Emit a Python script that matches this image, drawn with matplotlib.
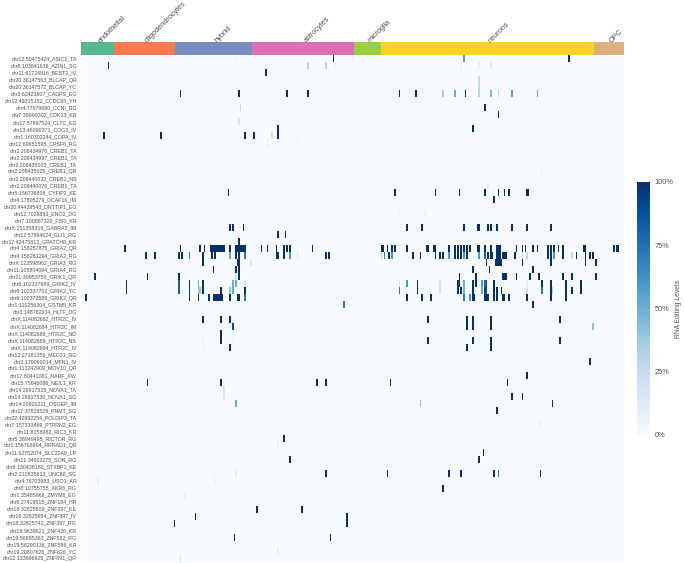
import numpy as np
import matplotlib
matplotlib.use("Agg")
import matplotlib.pyplot as plt
from matplotlib.colors import ListedColormap

plt.rcParams['font.family'] = ['Liberation Sans', 'DejaVu Sans']

row_labels = """chr12:50475424_ASIC1_TA
chr8:103841636_AZIN1_SG
chr11:61724916_BEST1_IV
chr20:36147563_BLCAP_QR
chr20:36147572_BLCAP_YC
chr3:62423807_CADPS_EG
chr12:49315152_CCDC65_YH
chr4:77979680_CCNI_RG
chr7:39990302_CDK13_KR
chr17:57697524_CLTC_EG
chr13:46090371_COG3_IV
chr1:160302244_COPA_IV
chr12:69651595_CPSF6_RG
chr2:208434976_CREB1_TA
chr2:208434997_CREB1_TA
chr2:208435003_CREB1_TA
chr2:208435025_CREB1_QR
chr2:208440032_CREB1_NS
chr2:208440076_CREB1_TA
chr5:156736808_CYFIP2_KE
chr4:17805279_DCAF16_IM
chr20:44439543_DNTTIP1_EG
chr12:7026883_ENO2_DG
chr7:100887329_FIS1_KR
chrX:151358319_GABRA3_IM
chr12:57864624_GLI1_RG
chr17:42475813_GPATCH8_KR
chr4:158257875_GRIA2_QR
chr4:158281294_GRIA2_RG
chrX:122598962_GRIA3_RG
chr11:105804694_GRIA4_RG
chr21:30953750_GRIK1_QR
chr6:102337689_GRIK2_IV
chr6:102337702_GRIK2_YC
chr6:102372589_GRIK2_QR
chr1:110256304_GSTM5_KR
chr3:148782634_HLTF_DG
chrX:114082682_HTR2C_IV
chrX:114082684_HTR2C_IM
chrX:114082686_HTR2C_ND
chrX:114082689_HTR2C_NS
chrX:114082694_HTR2C_IV
chr12:27181356_MED21_RG
chr3:179060014_MFN1_IV
chr1:113242909_MOV10_QR
chr17:80441081_NARF_XW
chr15:75646086_NEIL1_KR
chr14:26917515_NOVA1_TA
chr14:26917530_NOVA1_SG
chr14:20920211_OSGEP_IM
chr17:37826529_PNMT_SG
chr22:42992254_POLDIP3_TA
chr7:157333469_PTPRN2_EG
chr11:8158982_RIC3_KR
chr5:38949495_RICTOR_RG
chr1:156703904_RRNAD1_QR
chr11:62752074_SLC22A6_LP
chr21:34923275_SON_RG
chr9:130438182_STXBP1_KE
chr2:210835613_UNC80_SG
chr4:76703983_USO1_KR
chr8:10755755_XKR6_RG
chr1:35485966_ZMYM6_EG
chr6:27419515_ZNF184_HR
chr18:32825609_ZNF397_KE
chr18:32825654_ZNF397_IV
chr18:32825741_ZNF397_RG
chr19:9639621_ZNF426_KR
chr19:56895363_ZNF582_RG
chr19:58290136_ZNF586_KR
chr19:20807626_ZNF626_YC
chr12:133696925_ZNF891_QR""".split("\n")

cell_types = ["endothelial", "oligodendrocytes", "hybrid", "astrocytes", "microglia", "neurons", "OPC"]
cell_counts = [22, 41, 51, 68, 18, 142, 20]
cell_colors = ["#57b78f", "#f97a4e", "#7a8cbe", "#dd6eb3", "#97d13f", "#ffd124", "#dab07e"]

# samples fully edited (100%), by row
full_edit = {
    0: [168, 325], 1: [18], 2: [123],
    5: [66, 105, 137, 151, 212, 223, 256],
    7: [269], 8: [278], 10: [131, 261],
    11: [15, 53, 109, 115, 131],
    19: [98, 209, 236, 252, 269, 278, 282, 285, 297, 298],
    20: [275],
    24: [99, 101, 108, 217, 227, 255, 264, 265, 271, 273, 277, 287, 297, 313],
    25: [131, 136], 26: [105],
    27: [29, 66, 79, 82, 86, 87, 88, 89, 90, 91, 92, 93, 94, 95, 99, 103, 104, 105, 106, 107, 108, 109,
         120, 124, 130, 135, 137, 139, 154, 200, 201, 204, 207, 209, 217, 230, 231, 235, 236, 245, 249,
         251, 253, 255, 257, 259, 264, 265, 269, 273, 277, 278, 279, 290, 294, 296, 301, 304, 311, 313,
         315, 318, 321, 335, 336, 355, 357, 358],
    28: [43, 49, 65, 67, 81, 87, 89, 103, 105, 130, 131, 135, 163, 165, 205, 221, 226, 236, 239, 241,
         249, 251, 253, 257, 271, 273, 274, 277, 278, 279, 281, 282, 283, 289, 311, 313, 321, 330, 336,
         339, 341],
    29: [81, 104, 105, 270, 276, 277, 278, 279, 280, 294, 313, 336, 343],
    30: [88, 103, 105, 261, 272, 301],
    31: [9, 44, 65, 105, 252, 263, 281, 282, 283, 290, 299, 305, 321, 327, 343],
    32: [30, 72, 81, 224, 251, 252, 261, 263, 275, 307, 313, 323, 333],
    33: [30, 72, 81, 93, 109, 224, 251, 253, 261, 275, 277, 280, 313, 323, 327, 333],
    34: [3, 72, 78, 85, 88, 89, 90, 91, 92, 93, 94, 99, 104, 105, 217, 227, 233, 261, 262, 269, 270, 271,
         275, 277, 281, 282, 285, 297, 313, 323],
    35: [301],
    37: [81, 93, 99, 231, 257, 261, 273, 319],
    38: [257, 261, 273], 39: [93],
    40: [93, 231, 261, 273, 319],
    41: [99, 257, 273], 43: [339], 45: [297],
    46: [44, 93, 157, 163, 206, 284],
    48: [287, 294], 49: [314], 50: [277], 54: [135], 56: [268], 57: [139, 265],
    59: [163, 204, 245, 253, 275, 306],
    61: [241], 64: [117, 147], 65: [76, 177], 66: [62, 177], 68: [102, 166],
}

# samples with partial editing: row -> {sample: percent}
partial_edit = {
    0: {255: 55, 103: 5},
    1: {151: 30, 163: 30, 169: 5, 253: 5, 265: 10, 273: 12},
    3: {265: 25}, 4: {265: 25},
    5: {241: 35, 249: 50, 265: 30, 273: 45, 278: 30, 287: 55, 304: 50},
    7: {106: 25}, 9: {105: 15},
    11: {127: 20}, 12: {124: 10, 144: 10},
    13: {317: 3}, 16: {307: 5}, 17: {355: 2}, 18: {271: 10},
    22: {212: 5, 229: 7},
    28: {72: 70, 99: 50, 109: 70, 139: 60, 144: 20, 200: 30, 202: 70, 207: 60, 245: 60, 255: 60,
         265: 60, 269: 80, 294: 25, 297: 25, 315: 60, 327: 25},
    29: {113: 15},
    31: {103: 20},
    32: {65: 80, 78: 50, 101: 50, 103: 50, 109: 20, 212: 20, 217: 60, 239: 20, 255: 50, 267: 60,
         269: 80, 270: 90, 297: 10},
    33: {65: 80, 78: 40, 79: 40, 99: 40, 101: 50, 212: 70, 239: 20, 255: 50, 267: 50, 269: 90, 270: 90,
         297: 20, 307: 70, 314: 30},
    34: {109: 70, 255: 70, 259: 60},
    35: {175: 70}, 36: {135: 3},
    38: {101: 90, 341: 40, 81: 5},
    40: {81: 7, 101: 5}, 41: {81: 3},
    47: {95: 15}, 48: {95: 15},
    49: {103: 50, 226: 40},
    51: {16: 5}, 52: {306: 10}, 53: {88: 5}, 55: {131: 7}, 58: {221: 3},
    59: {103: 10, 278: 70, 333: 3},
    60: {11: 10, 89: 5}, 62: {69: 7}, 63: {24: 3}, 69: {21: 3}, 70: {131: 10}, 71: {66: 15},
}

colorbar_ticks = [0, 25, 50, 75, 100]
colorbar_labels = ["0%", "25%", "50%", "75%", "100%"]

n_rows = len(row_labels)
n_cols = sum(cell_counts)
matrix = np.zeros((n_rows, n_cols))
for r, cols in full_edit.items():
    matrix[r, cols] = 100
for r, cells in partial_edit.items():
    for c, v in cells.items():
        matrix[r, c] = v

W, H = 684, 563
fig = plt.figure(figsize=(W / 100, H / 100), dpi=100, facecolor="white")


def px_axes(x0, y0, x1, y1):
    return fig.add_axes([x0 / W, 1 - y1 / H, (x1 - x0) / W, (y1 - y0) / H])


TXT = "#4f4f4f"

# annotation strip
ax_top = px_axes(81, 41.5, 624, 55)
groups = np.repeat(np.arange(len(cell_types)), cell_counts)[None, :]
ax_top.imshow(groups, aspect="auto", cmap=ListedColormap(cell_colors), interpolation="nearest",
              vmin=-0.5, vmax=len(cell_types) - 0.5)
ax_top.set_xlim(-0.5, n_cols - 0.5)
ax_top.axis("off")
edges = np.cumsum([0] + cell_counts)
for name, a, b in zip(cell_types, edges[:-1], edges[1:]):
    ax_top.annotate(name, xy=((a + b) / 2 - 0.5, -0.5), xytext=(1.4, 0), textcoords="offset points",
                    rotation=45, rotation_mode="anchor", ha="left", va="center",
                    fontsize=5.3, color=TXT, annotation_clip=False)

# heatmap
ax = px_axes(81, 55, 624, 561.5)
im = ax.imshow(matrix, aspect="auto", cmap="Blues", vmin=0, vmax=100, interpolation="nearest")
ax.set_yticks(np.arange(n_rows))
ax.set_yticklabels(row_labels, fontsize=3.75, color=TXT)
ax.set_xticks([])
ax.tick_params(axis="y", length=0, pad=2.8)
for s in ax.spines.values():
    s.set_visible(False)

# colorbar
cax = px_axes(637, 182, 650, 434.5)
cb = fig.colorbar(im, cax=cax)
cb.outline.set_visible(False)
cb.set_ticks(colorbar_ticks)
cb.set_ticklabels(colorbar_labels)
cb.ax.tick_params(length=0, labelsize=5.3, labelcolor=TXT, pad=3.4)
fig.text(679 / W, 1 - 309.5 / H, "RNA Editing Levels", rotation=90, ha="center", va="center",
         fontsize=4.9, color=TXT)

fig.savefig("out.png", dpi=100)
